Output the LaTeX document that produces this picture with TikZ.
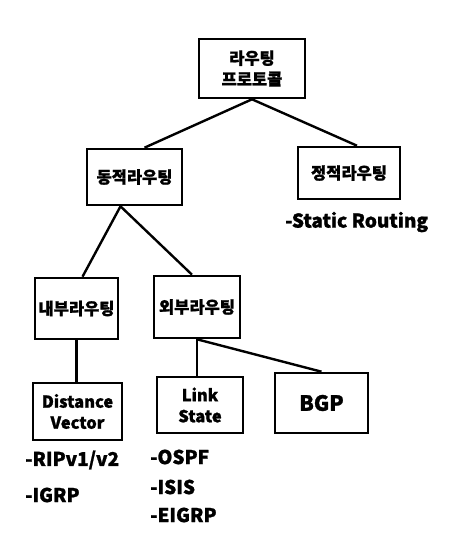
\documentclass[tikz,border=0pt]{standalone}
\usepackage{fontspec}
\setmainfont[FakeBold=1.2]{Noto Sans CJK KR}
\usetikzlibrary{calc}
\tikzset{
  box/.style={draw=black, line width=2.6pt, inner sep=0pt, align=center, font=\bfseries\fontsize{16.5}{21}\selectfont},
  link/.style={line width=2.4pt, draw=black},
  lbl/.style={anchor=west, inner sep=0pt, font=\bfseries\fontsize{19}{22}\selectfont}
}
\begin{document}
\begin{tikzpicture}[x=1pt,y=-1pt]
\useasboundingbox[fill=white] (0,0) rectangle (461,556);
\node[box, minimum width=106pt, minimum height=59pt] (root) at (252,68.5) {라우팅\\프로토콜};
\node[box, minimum width=95pt, minimum height=56pt] (dong) at (134.5,177) {동적라우팅};
\node[box, minimum width=102pt, minimum height=52pt] (jeong) at (349,173) {정적라우팅};
\node[box, minimum width=83pt, minimum height=61pt] (nae) at (76.5,308.5) {내부라우팅};
\node[box, minimum width=86pt, minimum height=62pt] (oe) at (197,307) {외부라우팅};
\node[box, minimum width=89pt, minimum height=57pt] (dv) at (77.5,411.5) {Distance\\Vector};
\node[box, minimum width=86pt, minimum height=56pt] (ls) at (200,405) {Link\\State};
\node[box, minimum width=93pt, minimum height=60pt, font=\bfseries\fontsize{21}{24}\selectfont] (bgp) at (321.5,403) {BGP};

\node[lbl] (st) at (285,222) {-Static Routing};
\node[lbl] (rip) at (25,460) {-RIPv1/v2};
\node[lbl] (igrp) at (25,495) {-IGRP};
\node[lbl] (ospf) at (150,457) {-OSPF};
\node[lbl] (isis) at (150,487) {-ISIS};
\node[lbl] (eigrp) at (150,515) {-EIGRP};

\draw[link] (root.south) -- ($(dong.north)+(10,0)$);
\draw[link] (root.south) -- ($(jeong.north)+(8,0)$);
\draw[link] ($(dong.south)+(-14,0)$) -- ($(nae.north)+(6,0)$);
\draw[link] ($(dong.south)+(-14,0)$) -- ($(oe.north)+(-5,0)$);
\draw[link] (nae.south) -- (dv.north -| nae.south);
\draw[link] (ls.north -| oe.south) -- (oe.south);
\draw[link] (oe.south) -- (bgp.north);
\end{tikzpicture}
\end{document}
